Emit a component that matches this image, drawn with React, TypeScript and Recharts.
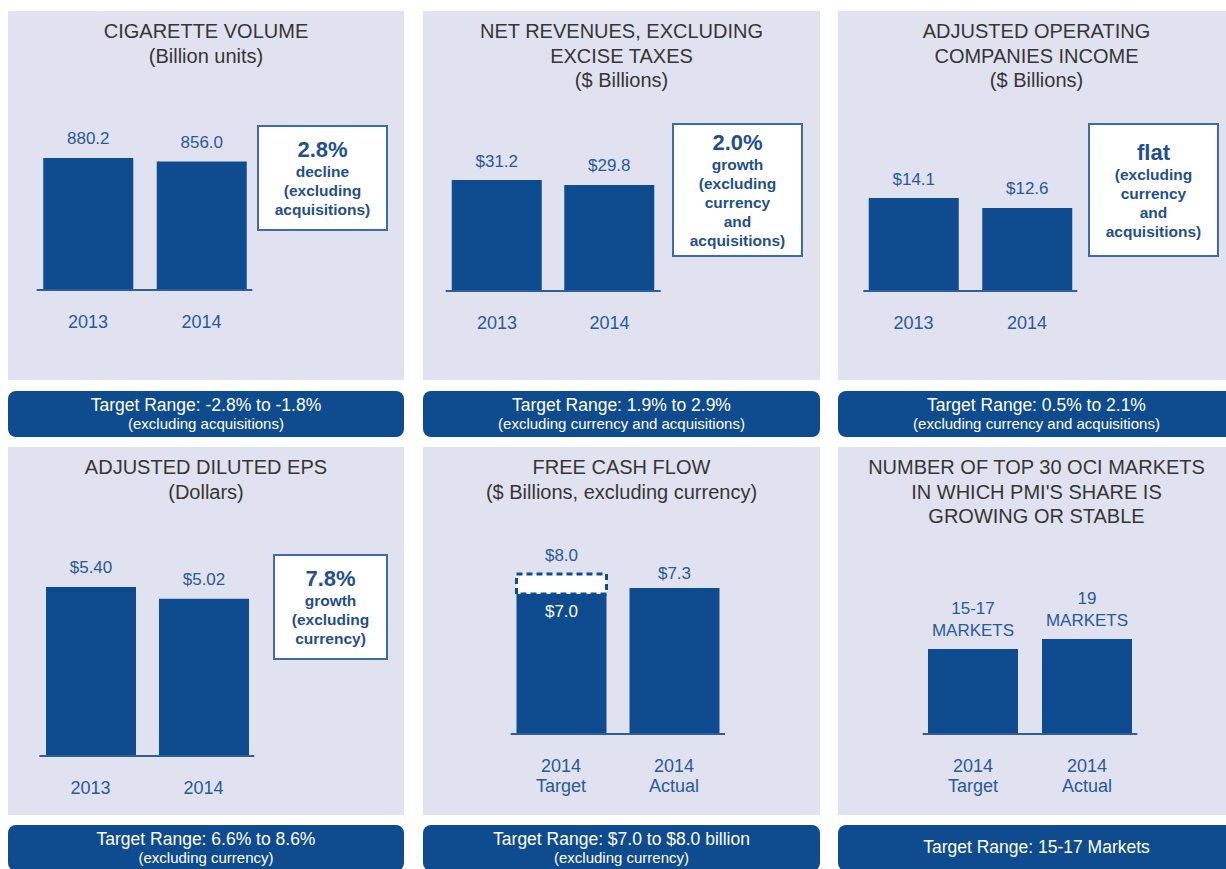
import React from 'react';
import { BarChart, Bar, XAxis, YAxis, LabelList } from 'recharts';

const FONT = '"Liberation Sans", Arial, Helvetica, sans-serif';
const BAR = '#0f4c8f';
const AXIS = '#2e5f9c';
const TEXT_BLUE = '#2a5a98';
const CALLOUT_BLUE = '#1f4f8f';
const PANEL_BG = '#e1e2ef';
const TITLE_COLOR = '#363636';

// ---------- data ----------
const volumeCategories = ['2013', '2014'];
const volumeValues = [880.2, 856.0];
const volumeLabels = ['880.2', '856.0'];

const revenueCategories = ['2013', '2014'];
const revenueValues = [31.2, 29.8];
const revenueLabels = ['$31.2', '$29.8'];

const ociCategories = ['2013', '2014'];
const ociValues = [14.1, 12.6];
const ociLabels = ['$14.1', '$12.6'];

const epsCategories = ['2013', '2014'];
const epsValues = [5.4, 5.02];
const epsLabels = ['$5.40', '$5.02'];

const fcfCategories = ['2014|Target', '2014|Actual'];
const fcfBaseValues = [7.0, 7.3];
const fcfRangeValues = [1.0, 0];
const fcfBaseLabels = ['$7.0', '$7.3'];
const fcfRangeLabels = ['$8.0', ''];

const marketCategories = ['2014|Target', '2014|Actual'];
const marketValues = [17, 19];
const marketLabels = ['15-17|MARKETS', '19|MARKETS'];

const titles = [
  ['CIGARETTE VOLUME', '(Billion units)'],
  ['NET REVENUES, EXCLUDING', 'EXCISE TAXES', '($ Billions)'],
  ['ADJUSTED OPERATING', 'COMPANIES INCOME', '($ Billions)'],
  ['ADJUSTED DILUTED EPS', '(Dollars)'],
  ['FREE CASH FLOW', '($ Billions, excluding currency)'],
  ['NUMBER OF TOP 30 OCI MARKETS', "IN WHICH PMI'S SHARE IS", 'GROWING OR STABLE'],
];

const banners = [
  ['Target Range: -2.8% to -1.8%', '(excluding acquisitions)'],
  ['Target Range: 1.9% to 2.9%', '(excluding currency and acquisitions)'],
  ['Target Range: 0.5% to 2.1%', '(excluding currency and acquisitions)'],
  ['Target Range: 6.6% to 8.6%', '(excluding currency)'],
  ['Target Range: $7.0 to $8.0 billion', '(excluding currency)'],
  ['Target Range: 15-17 Markets'],
];

const callouts = [
  { big: '2.8%', small: ['decline', '(excluding', 'acquisitions)'] },
  { big: '2.0%', small: ['growth', '(excluding', 'currency', 'and', 'acquisitions)'] },
  { big: 'flat', small: ['(excluding', 'currency', 'and', 'acquisitions)'] },
  { big: '7.8%', small: ['growth', '(excluding', 'currency)'] },
];

// ---------- layout ----------
const AXIS_H = 50;
const panels = [
  { x: 8, y: 11, w: 396, h: 369 },
  { x: 423, y: 11, w: 397, h: 369 },
  { x: 838, y: 11, w: 397, h: 369 },
  { x: 8, y: 447, w: 396, h: 368 },
  { x: 423, y: 447, w: 397, h: 368 },
  { x: 838, y: 447, w: 397, h: 368 },
];
const bannerTops = [391, 391, 391, 825, 825, 825];
// left/right: extent of the baseline; bandLeft/bandRight: extent of the two category bands
const plots = [
  { left: 36.7, right: 252.3, bandLeft: 31.25, bandRight: 258.25, top: 140, base: 290, yMax: 1000 },
  { left: 445.7, right: 660.7, bandLeft: 440.75, bandRight: 665.75, top: 148.7, base: 291, yMax: 40 },
  { left: 863.3, right: 1077.3, bandLeft: 856.75, bandRight: 1083.75, top: 159.1, base: 291, yMax: 20 },
  { left: 39.3, right: 254.3, bandLeft: 34, bandRight: 260, top: 568.2, base: 756, yMax: 6 },
  { left: 510.7, right: 725, bandLeft: 504.5, bandRight: 730.5, top: 534, base: 734, yMax: 10 },
  { left: 922.7, right: 1137.3, bandLeft: 916, bandRight: 1144, top: 584, base: 734, yMax: 30 },
];
const calloutBoxes = [
  { x: 257, y: 125, w: 131, h: 106 },
  { x: 672, y: 123, w: 131, h: 134 },
  { x: 1088, y: 123, w: 131, h: 134 },
  { x: 273, y: 554, w: 115, h: 106 },
];

// ---------- helpers ----------
const pick = (props: any) => {
  const vb = props.viewBox || {};
  const x = props.x ?? vb.x;
  const y = props.y ?? vb.y;
  const width = props.width ?? vb.width;
  const height = props.height ?? vb.height;
  return { x: Number(x), y: Number(y), width: Number(width), height: Number(height), index: props.index };
};

const topLabel = (labels: string[], offset: number, color = TEXT_BLUE, lineGap = 21.5) => (props: any) => {
  const { x, y, width, index } = pick(props);
  const text = labels[index] || '';
  if (!text) return null;
  const lines = text.split('|');
  const cx = x + width / 2;
  return (
    <text x={cx} y={y - offset} textAnchor="middle" fill={color} fontSize={17} fontFamily={FONT}>
      {lines.map((l, i) => (
        <tspan key={i} x={cx} dy={i === 0 ? -(lines.length - 1) * lineGap : lineGap}>
          {l}
        </tspan>
      ))}
    </text>
  );
};

const insideLabel = (labels: string[], showIdx: number[]) => (props: any) => {
  const { x, y, width, index } = pick(props);
  if (!showIdx.includes(index)) return null;
  const cx = x + width / 2;
  return (
    <text x={cx} y={y + 23} textAnchor="middle" fill="#ffffff" fontSize={17} fontFamily={FONT}>
      {labels[index]}
    </text>
  );
};

const CategoryTick = (props: any) => {
  const { x, y, payload } = props;
  const lines = String(payload.value).split('|');
  return (
    <text x={x} y={y} textAnchor="middle" fill={TEXT_BLUE} fontSize={18} fontFamily={FONT}>
      {lines.map((l, i) => (
        <tspan key={i} x={x} dy={i === 0 ? 37.5 : 20.5}>
          {l}
        </tspan>
      ))}
    </text>
  );
};

const chartMargin = (i: number) => {
  const p = panels[i];
  const q = plots[i];
  return {
    left: q.left - p.x,
    right: p.x + p.w - q.right,
    top: q.top - p.y,
    bottom: p.y + p.h - q.base - AXIS_H,
  };
};

function renderAxes(i: number) {
  const q = plots[i];
  return [
    <XAxis
      key="x"
      dataKey="cat"
      interval={0}
      tickLine={false}
      tickSize={0}
      tickMargin={0}
      height={AXIS_H}
      padding={{ left: q.bandLeft - q.left, right: q.right - q.bandRight }}
      axisLine={{ stroke: AXIS, strokeWidth: 2 }}
      tick={<CategoryTick />}
    />,
    <YAxis key="y" hide domain={[0, q.yMax]} allowDataOverflow />,
  ];
}

function SimplePanelChart({ i, cats, vals, labels }: { i: number; cats: string[]; vals: number[]; labels: string[] }) {
  const data = cats.map((c, k) => ({ cat: c, v: vals[k] }));
  const p = panels[i];
  return (
    <div style={{ position: 'absolute', left: p.x, top: p.y, width: p.w, height: p.h }}>
      <BarChart width={p.w} height={p.h} data={data} margin={chartMargin(i)}>
        {renderAxes(i)}
        <Bar dataKey="v" fill={BAR} barSize={90} isAnimationActive={false}>
          <LabelList dataKey="v" content={topLabel(labels, 13.5)} />
        </Bar>
      </BarChart>
    </div>
  );
}

function FcfChart() {
  const i = 4;
  const data = fcfCategories.map((c, k) => ({ cat: c, base: fcfBaseValues[k], range: fcfRangeValues[k] }));
  const p = panels[i];
  return (
    <div style={{ position: 'absolute', left: p.x, top: p.y, width: p.w, height: p.h }}>
      <BarChart width={p.w} height={p.h} data={data} margin={chartMargin(i)}>
        {renderAxes(i)}
        <Bar dataKey="base" stackId="a" fill={BAR} barSize={90} isAnimationActive={false}>
          <LabelList dataKey="base" content={insideLabel(fcfBaseLabels, [0])} />
          <LabelList dataKey="base" content={topLabel(['', fcfBaseLabels[1]], 9)} />
        </Bar>
        <Bar
          dataKey="range"
          stackId="a"
          fill="#ffffff"
          stroke={BAR}
          strokeWidth={3}
          strokeDasharray="6 4"
          barSize={90}
          isAnimationActive={false}
        >
          <LabelList dataKey="range" content={topLabel(fcfRangeLabels, 13)} />
        </Bar>
      </BarChart>
    </div>
  );
}

function MarketsChart() {
  const i = 5;
  const data = marketCategories.map((c, k) => ({ cat: c, v: marketValues[k] }));
  const p = panels[i];
  return (
    <div style={{ position: 'absolute', left: p.x, top: p.y, width: p.w, height: p.h }}>
      <BarChart width={p.w} height={p.h} data={data} margin={chartMargin(i)}>
        {renderAxes(i)}
        <Bar dataKey="v" fill={BAR} barSize={90} isAnimationActive={false}>
          <LabelList dataKey="v" content={topLabel(marketLabels, 13.5)} />
        </Bar>
      </BarChart>
    </div>
  );
}

function Panel({ i }: { i: number }) {
  const p = panels[i];
  return (
    <>
      <div style={{ position: 'absolute', left: p.x, top: p.y, width: p.w, height: p.h, background: PANEL_BG }} />
      <div
        style={{
          position: 'absolute',
          left: p.x,
          top: p.y + 8,
          width: p.w,
          textAlign: 'center',
          fontSize: 20,
          lineHeight: '24.5px',
          color: TITLE_COLOR,
        }}
      >
        {titles[i].map((t, k) => (
          <div key={k}>{t}</div>
        ))}
      </div>
      <div
        style={{
          position: 'absolute',
          left: p.x,
          top: bannerTops[i],
          width: p.w,
          height: 46,
          background: BAR,
          borderRadius: 8,
          color: '#ffffff',
          display: 'flex',
          flexDirection: 'column',
          alignItems: 'center',
          justifyContent: 'center',
          textAlign: 'center',
          boxSizing: 'border-box',
          paddingBottom: 1,
        }}
      >
        <div style={{ fontSize: 17.5, lineHeight: '19px' }}>{banners[i][0]}</div>
        {banners[i][1] ? <div style={{ fontSize: 15, lineHeight: '17px' }}>{banners[i][1]}</div> : null}
      </div>
    </>
  );
}

function Callout({ i }: { i: number }) {
  const b = calloutBoxes[i];
  const c = callouts[i];
  return (
    <div
      style={{
        position: 'absolute',
        left: b.x,
        top: b.y,
        width: b.w,
        height: b.h,
        boxSizing: 'border-box',
        border: '2px solid #3d6ca8',
        background: '#ffffff',
        display: 'flex',
        flexDirection: 'column',
        alignItems: 'center',
        justifyContent: 'center',
        color: CALLOUT_BLUE,
        fontWeight: 'bold',
        textAlign: 'center',
      }}
    >
      <div style={{ fontSize: 22, lineHeight: '25px' }}>{c.big}</div>
      {c.small.map((s, k) => (
        <div key={k} style={{ fontSize: 15.5, lineHeight: '19px' }}>
          {s}
        </div>
      ))}
    </div>
  );
}

export default function App() {
  return (
    <div
      style={{
        position: 'absolute',
        left: 0,
        top: 0,
        width: 1226,
        height: 869,
        overflow: 'hidden',
        background: '#ffffff',
        fontFamily: FONT,
      }}
    >
      {panels.map((_, i) => (
        <Panel key={i} i={i} />
      ))}
      <SimplePanelChart i={0} cats={volumeCategories} vals={volumeValues} labels={volumeLabels} />
      <SimplePanelChart i={1} cats={revenueCategories} vals={revenueValues} labels={revenueLabels} />
      <SimplePanelChart i={2} cats={ociCategories} vals={ociValues} labels={ociLabels} />
      <SimplePanelChart i={3} cats={epsCategories} vals={epsValues} labels={epsLabels} />
      <FcfChart />
      <MarketsChart />
      {callouts.map((_, i) => (
        <Callout key={i} i={i} />
      ))}
    </div>
  );
}
